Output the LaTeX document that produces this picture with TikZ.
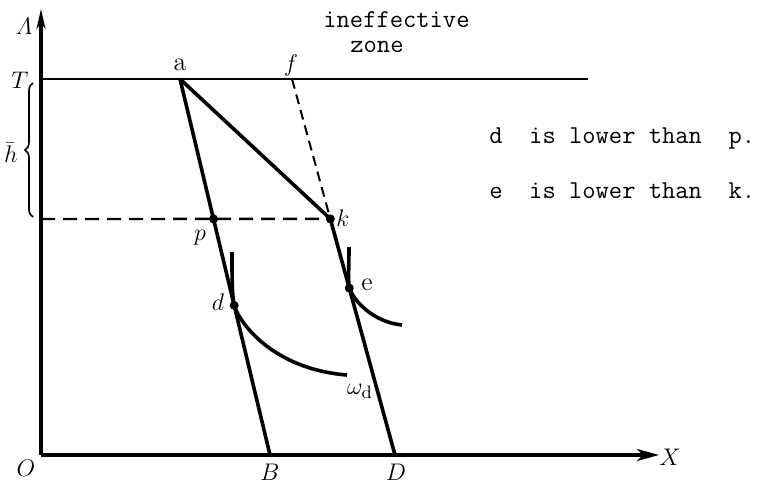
\documentclass[tikz,border=0pt]{standalone}
\usepackage{amsmath,amssymb}
\usepackage{tikz}
\usetikzlibrary{decorations.pathreplacing,arrows.meta,calc}

\begin{document}
\begin{tikzpicture}[x=0.5pt, y=-0.5pt,
	budget/.style={line width=1.8pt},
	lbl/.style={font=\fontsize{13}{15}\selectfont, inner sep=0pt},
	note/.style={font=\fontsize{12.9}{15}\selectfont\ttfamily, inner sep=0pt, anchor=base west}]
			\useasboundingbox (0,0) rectangle (769,483);
			% points
			\coordinate (O) at (41,455);
			\coordinate (ytop) at (41,9);
			\coordinate (xend) at (659,455);
			\coordinate (T) at (41,79);
			\coordinate (Tend) at (588,79);
			\coordinate (hk) at (41,219);
			\coordinate (a) at (180,79);
			\coordinate (f) at (292,79);
			\coordinate (B) at (270,455);
			\coordinate (D) at (395,455);
			\coordinate (p) at ($(a)!0.372!(B)$);
			\coordinate (d) at ($(a)!0.602!(B)$);
			\coordinate (k) at ($(f)!0.372!(D)$);
			\coordinate (e) at ($(f)!0.556!(D)$);
			% axes
			\draw [line width=1.6pt, -{Stealth[length=10pt, width=4.5pt, inset=3pt]}] (O) -- (ytop);
			\draw [line width=1.6pt, -{Stealth[length=11pt, width=6pt, inset=3pt]}] (O) -- (xend);
			\draw [line width=1.4pt] (T) -- (Tend);
			\draw [line width=1.2pt, dash pattern=on 7pt off 4pt] (hk) -- (k);
			\draw [line width=1pt, dash pattern=on 5pt off 3pt] (f) -- (k);
			\draw [budget] (a) -- (B);
			\draw [budget] (a) -- (k);
			\draw [budget] (k) -- (D);
			% indifference curves
			\draw [budget] (232,252) .. controls (232,280) and (232,294) .. (d)
				.. controls (239,322) and (272,369) .. (347,375);
			\draw [budget] (349,247) .. controls (349,268) and (348,279) .. (e)
				.. controls (354,301) and (373,322) .. (402,325);
			\foreach \pt in {p,d,k,e}
				\fill (\pt) circle (4.5);
			\draw [decorate, decoration={brace, amplitude=4pt}, line width=0.8pt] (33,217) -- (33,83);
			% labels
			\node[lbl] (lab-Lambda) at (24,26) {$\varLambda$};
			\node[lbl] (lab-T) at (20,80) {$T$};
			\node[lbl] (lab-h) at (11,153) {$\bar{h}$};
			\node[lbl] (lab-a) at (180,65) {a};
			\node[lbl] (lab-f) at (291,65) {$f$};
			\node[lbl] (lab-k) at (343,218) {$k$};
			\node[lbl] (lab-p) at (200,238) {$p$};
			\node[lbl] (lab-d) at (218,302) {$d$};
			\node[lbl] (lab-e) at (367,285) {e};
			\node[lbl] (lab-w) at (360,391) {$\omega_{\mathrm{d}}$};
			\node[lbl] (lab-B) at (270,472) {$B$};
			\node[lbl] (lab-D) at (396,472) {$D$};
			\node[lbl] (lab-O) at (26,468) {$O$};
			\node[lbl] (lab-X) at (670,457) {$X$};
			\node[note] (zone1) at (323,27) {ineffective};
			\node[note] (zone2) at (350,52) {zone};
			\node[note] (rule-d) at (489,143) {d~~is lower than~~p.};
			\node[note] (rule-e) at (489,198) {e~~is lower than~~k.};
	\end{tikzpicture}
\end{document}
